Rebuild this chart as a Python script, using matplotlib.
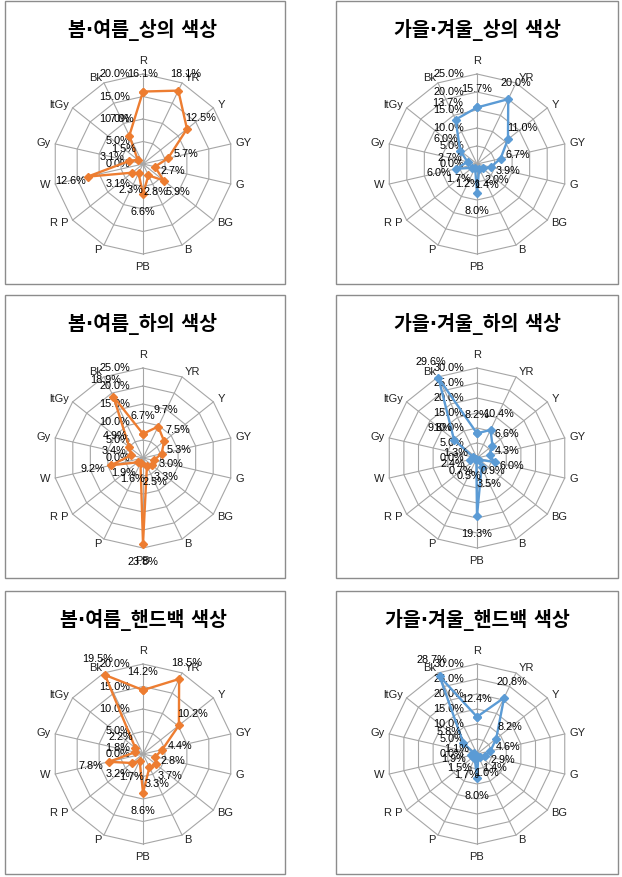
import numpy as np
import matplotlib
matplotlib.use('Agg')
import matplotlib.pyplot as plt
from matplotlib.patches import Rectangle

categories = ['R', 'YR', 'Y', 'GY', 'G', 'BG', 'B', 'PB', 'P', 'R P', 'W', 'Gy', 'ltGy', 'Bk']
titles = ['봄·여름_상의 색상', '가을·겨울_상의 색상',
          '봄·여름_하의 색상', '가을·겨울_하의 색상',
          '봄·여름_핸드백 색상', '가을·겨울_핸드백 색상']
ss_top = [16.1, 18.1, 12.5, 5.7, 2.7, 5.9, 2.8, 6.6, 2.3, 3.1, 12.6, 3.1, 1.5, 7.0]
fw_top = [15.7, 20.0, 11.0, 6.7, 3.9, 2.0, 1.4, 8.0, 1.2, 1.7, 6.0, 2.7, 6.0, 13.7]
ss_bottom = [6.7, 9.7, 7.5, 5.3, 3.0, 3.3, 2.5, 23.8, 1.6, 1.9, 9.2, 3.4, 4.9, 18.9]
fw_bottom = [8.2, 10.4, 6.6, 4.3, 6.0, 0.9, 3.5, 19.3, 0.5, 0.7, 2.4, 1.3, 9.8, 29.6]
ss_bag = [14.2, 18.5, 10.2, 4.4, 2.8, 3.7, 3.3, 8.6, 1.7, 3.2, 7.8, 1.8, 2.2, 19.5]
fw_bag = [12.4, 20.8, 8.2, 4.6, 2.9, 1.4, 1.0, 8.0, 1.7, 1.5, 1.9, 1.1, 5.8, 28.7]
series = [ss_top, fw_top, ss_bottom, fw_bottom, ss_bag, fw_bag]
axis_max = [20, 25, 25, 30, 20, 30]

ORANGE = '#ED7D31'
BLUE = '#5B9BD5'
colors = [ORANGE, BLUE, ORANGE, BLUE, ORANGE, BLUE]

W, H = 622, 877
fig = plt.figure(figsize=(W / 100, H / 100), dpi=100)
fig.patch.set_facecolor('white')

TFONT = ['DejaVu Sans', 'Noto Sans CJK KR']
NFONT = ['Liberation Sans', 'DejaVu Sans']

box_left = [5, 336]
box_w = [280, 282]
box_top = [1, 295, 591]
box_h = 283
cen_x = [143, 477]
RAD = 90

n = len(categories)
ang = np.pi / 2 - 2 * np.pi * np.arange(n) / n
dxs = np.cos(ang)
dys = np.sin(ang)

for i in range(6):
    row, col = divmod(i, 2)
    left, top, bw = box_left[col], box_top[row], box_w[col]
    fig.add_artist(Rectangle((left / W, 1 - (top + box_h) / H), bw / W, box_h / H,
                             transform=fig.transFigure, fill=False,
                             ec='#8C8C8C', lw=1.0))
    cx = cen_x[col]
    cy = top + 163
    fig.text(cx / W, 1 - (top + 29) / H, titles[i], ha='center', va='center',
             fontsize=14, fontweight='bold', family=TFONT, color='black')

    ax = fig.add_axes([(cx - RAD) / W, 1 - (cy + RAD) / H, 2 * RAD / W, 2 * RAD / H])
    m = axis_max[i]
    ax.set_xlim(-m, m)
    ax.set_ylim(-m, m)
    ax.axis('off')

    ticks = np.arange(0, m + 0.001, 5)
    for t in ticks[1:]:
        xs = np.append(t * dxs, t * dxs[0])
        ys = np.append(t * dys, t * dys[0])
        ax.plot(xs, ys, color='#A6A6A6', lw=0.8, zorder=1, clip_on=False)
    for k in range(n):
        ax.plot([0, m * dxs[k]], [0, m * dys[k]], color='#A6A6A6', lw=0.8,
                zorder=1, clip_on=False)

    for t in ticks:
        ax.annotate(f'{t:.1f}%', xy=(0, t), xytext=(-13, 0),
                    textcoords='offset pixels', ha='right', va='center',
                    fontsize=7.8, family=NFONT, color='black', zorder=3,
                    annotation_clip=False)

    for k, cat in enumerate(categories):
        dx, dy = dxs[k], dys[k]
        if abs(dx) < 0.1:
            ha = 'center'
            va = 'bottom' if dy > 0 else 'top'
            off = 8
        else:
            ha = 'left' if dx > 0 else 'right'
            va = 'center'
            off = 5
        ax.annotate(cat, xy=(m * dx, m * dy), xytext=(dx * off, dy * off),
                    textcoords='offset pixels', ha=ha, va=va, fontsize=8,
                    family=NFONT, color='#222222', annotation_clip=False)

    vals = np.array(series[i])
    xs = vals * dxs
    ys = vals * dys
    ax.plot(np.append(xs, xs[0]), np.append(ys, ys[0]), color=colors[i], lw=1.7,
            marker='D', markersize=4.2, zorder=4, clip_on=False)

    for k, v in enumerate(vals):
        ax.annotate(f'{v:.1f}%', xy=(xs[k], ys[k]), xytext=(dxs[k] * 18, dys[k] * 18),
                    textcoords='offset pixels', ha='center', va='center',
                    fontsize=7.8, family=NFONT, color='black', zorder=5,
                    annotation_clip=False)

fig.savefig('out.png', dpi=100, facecolor='white')
